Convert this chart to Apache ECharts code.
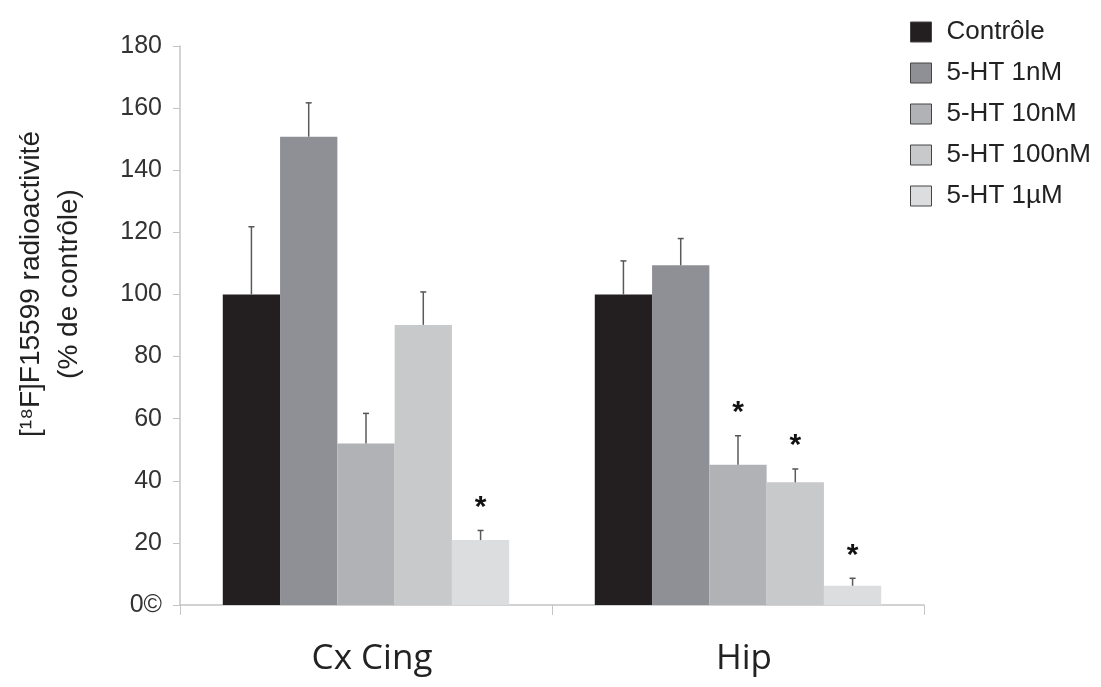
<!DOCTYPE html>
<html><head><meta charset="utf-8">
<script src="https://cdn.jsdelivr.net/npm/echarts@6/dist/echarts.min.js"></script>
<style>html,body{margin:0;padding:0;background:#fff}#c{width:1101px;height:687px}</style>
</head><body><div id="c"></div>
<script>
const categories = ['Cx Cing', 'Hip'];
const seriesNames = ['Contrôle', '5-HT 1nM', '5-HT 10nM', '5-HT 100nM', '5-HT 1µM'];
const colors = ['#231f20', '#8f9095', '#b1b2b6', '#c8c9cb', '#dcdddf'];
const values = [
  [100, 100],
  [150.8, 109.4],
  [52, 45.2],
  [90.2, 39.5],
  [20.9, 6.2]
];
const errors = [
  [21.8, 10.8],
  [10.9, 8.6],
  [9.7, 9.3],
  [10.6, 4.3],
  [3.1, 2.4]
];
const stars = [
  [false, false],
  [false, false],
  [false, true],
  [false, true],
  [true, true]
];
const yTitle = '[¹⁸F]F15599 radioactivité\n(% de contrôle)';

const gapFrac = 0.23;
const n = seriesNames.length;
const sans = '"Liberation Sans", Arial, sans-serif';

const chart = echarts.init(document.getElementById('c'));
const series = [];
seriesNames.forEach((name, i) => {
  series.push({
    name, type: 'bar', data: values[i], barGap: '0%', barCategoryGap: '23%',
    itemStyle: { color: colors[i], borderColor: '#333', borderWidth: 0 },
    z: 2
  });
});
seriesNames.forEach((name, i) => {
  series.push({
    type: 'custom', z: 5, silent: true,
    data: values[i].map((v, j) => [j, v, errors[i][j], stars[i][j] ? 1 : 0]),
    renderItem: function (params, api) {
      const cat = api.value(0), v = api.value(1), e = api.value(2), s = api.value(3);
      const band = api.size([1, 0])[0];
      const bw = band * (1 - gapFrac) / n;
      const off = -band * (1 - gapFrac) / 2 + bw * (i + 0.5);
      const p0 = api.coord([cat, v]);
      const p1 = api.coord([cat, v + e]);
      const x = p0[0] + off;
      const children = [
        { type: 'line', shape: { x1: x, y1: p0[1], x2: x, y2: p1[1] }, style: { stroke: '#5a5a5a', lineWidth: 1.5 } },
        { type: 'line', shape: { x1: x - 3, y1: p1[1], x2: x + 3, y2: p1[1] }, style: { stroke: '#555', lineWidth: 1.5 } }
      ];
      if (s) {
        children.push({ type: 'text', style: { text: '*', x: x, y: p1[1] - 8, align: 'center', verticalAlign: 'bottom', fill: '#111', font: 'bold 30px ' + sans } });
      }
      return { type: 'group', children };
    }
  });
});

chart.setOption({
  animation: false,
  backgroundColor: '#fff',
  grid: { left: 180, right: 177, top: 46, bottom: 82 },
  graphic: [{
    type: 'text', x: 50, y: 284, rotation: Math.PI / 2,
    style: { text: yTitle, x: 0, y: 0, align: 'center', verticalAlign: 'middle', font: '28px ' + sans, lineHeight: 38, fill: '#222' }
  }],
  legend: {
    data: seriesNames, orient: 'vertical', left: 905, top: 14,
    itemWidth: 21, itemHeight: 20, itemGap: 15,
    icon: 'rect',
    itemStyle: { borderColor: '#444', borderWidth: 1 },
    textStyle: { fontFamily: sans, fontSize: 26, color: '#222', padding: [0, 0, 0, 10] }
  },
  xAxis: {
    type: 'category', data: categories,
    axisLine: { lineStyle: { color: '#c4c4c4', width: 1.5 } },
    axisTick: { show: true, length: 10, lineStyle: { color: '#c4c4c4' } },
    axisLabel: { margin: 37, padding: [0, 0, 0, 12], fontFamily: '"Open Sans", sans-serif', fontSize: 35, color: '#222' }
  },
  yAxis: {
    type: 'value', min: 0, max: 180, interval: 20,
    splitLine: { show: false },
    axisLine: { show: true, lineStyle: { color: '#c4c4c4', width: 1.5 } },
    axisTick: { show: true, length: 7, lineStyle: { color: '#c4c4c4' } },
    axisLabel: {
      margin: 18, fontFamily: sans, fontSize: 25, color: '#333',
      formatter: v => (v === 0 ? '0©' : String(v))
    }
  },
  series
});
</script></body></html>
